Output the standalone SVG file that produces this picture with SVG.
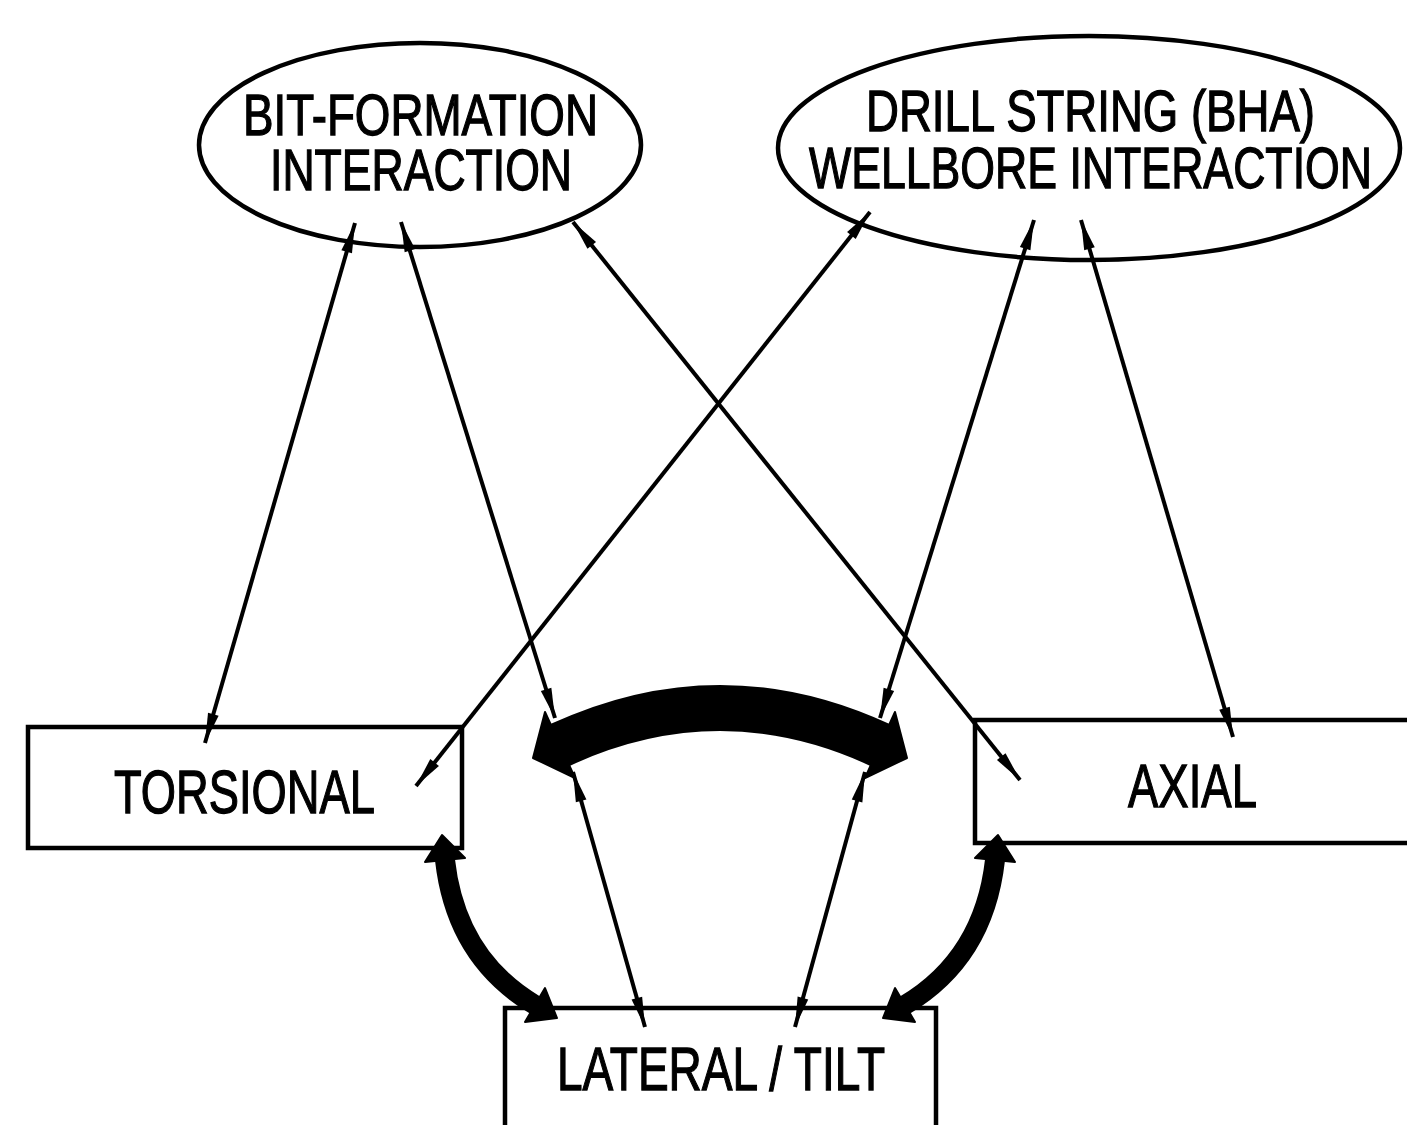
<svg xmlns="http://www.w3.org/2000/svg" width="1407" height="1125" viewBox="0 0 1407 1125">
<style>
.node{fill:#fff;stroke:#000;stroke-width:4.5}
.lbl{font-family:"Liberation Sans",Arial,sans-serif;fill:#000;stroke:#000;stroke-width:1.3;text-anchor:start}
.thin{fill:none;stroke:#000;stroke-width:4;marker-start:url(#ah);marker-end:url(#ah)}
.band{fill:none;stroke:#000}
.head{fill:#000;stroke:#000;stroke-width:2;stroke-linejoin:round}
</style>
<defs>
<marker id="ah" viewBox="-32 -7 34 14" refX="0" refY="0" markerWidth="34" markerHeight="14" markerUnits="userSpaceOnUse" orient="auto-start-reverse">
<path d="M0,0 L-30,-5.5 L-30,5.5 Z" fill="#000"/>
</marker>
</defs>
<rect width="1407" height="1125" fill="#fff"/>
<g id="bit-formation">
<ellipse class="node" cx="420" cy="145" rx="221" ry="102"/>
<text class="lbl" x="243" y="135" font-size="58" textLength="355" lengthAdjust="spacingAndGlyphs">BIT-FORMATION</text>
<text class="lbl" x="270" y="190" font-size="58" textLength="302" lengthAdjust="spacingAndGlyphs">INTERACTION</text>
</g>
<g id="drill-string">
<ellipse class="node" cx="1089" cy="148" rx="311" ry="112"/>
<text class="lbl" x="866" y="131" font-size="58" textLength="449" lengthAdjust="spacingAndGlyphs">DRILL STRING (BHA)</text>
<text class="lbl" x="809" y="188" font-size="58" textLength="563" lengthAdjust="spacingAndGlyphs">WELLBORE INTERACTION</text>
</g>
<g id="torsional">
<rect class="node" x="28" y="727" width="434" height="121"/>
<text class="lbl" x="114" y="813" font-size="62" textLength="261" lengthAdjust="spacingAndGlyphs">TORSIONAL</text>
</g>
<g id="axial">
<rect class="node" x="975" y="720" width="500" height="123"/>
<text class="lbl" x="1128" y="807" font-size="62" textLength="129" lengthAdjust="spacingAndGlyphs">AXIAL</text>
</g>
<g id="lateral-tilt">
<rect class="node" x="505" y="1008" width="431" height="160"/>
<text class="lbl" x="557" y="1090" font-size="62" textLength="328" lengthAdjust="spacingAndGlyphs">LATERAL / TILT</text>
</g>
<g id="connectors">
<line class="thin" x1="355" y1="223" x2="205" y2="743"/>
<line class="thin" x1="401" y1="222" x2="555" y2="718"/>
<line class="thin" x1="573" y1="222" x2="1020" y2="780"/>
<line class="thin" x1="870" y1="212" x2="416" y2="786"/>
<line class="thin" x1="1034" y1="220" x2="880" y2="718"/>
<line class="thin" x1="1081" y1="220" x2="1233" y2="737"/>
<line class="thin" x1="573" y1="772" x2="645" y2="1027"/>
<line class="thin" x1="865" y1="772" x2="795" y2="1027"/>
<path class="band" d="M560,745 Q720,671 880,745" stroke-width="46"/>
<polygon class="head" points="533,758 545,712 575,778"/>
<polygon class="head" points="907,758 895,712 865,778"/>
<path class="band" d="M445,860 Q456,958 535,1005" stroke-width="20"/>
<polygon class="head" points="442,835 465,858 425,862"/>
<polygon class="head" points="557,1018 525,1022 545,988"/>
<path class="band" d="M995,860 Q984,958 905,1005" stroke-width="20"/>
<polygon class="head" points="998,835 975,858 1015,862"/>
<polygon class="head" points="883,1018 915,1022 895,988"/>
</g>
</svg>
